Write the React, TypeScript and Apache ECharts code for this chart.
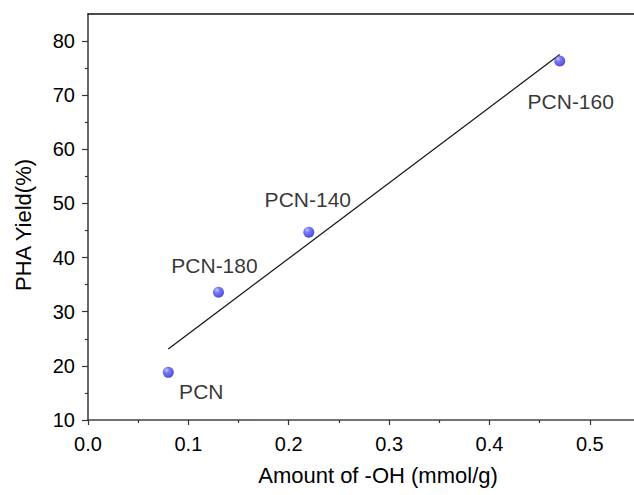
import React, { useEffect, useRef } from "react";
import * as echarts from "echarts";

const sampleNames = ["PCN", "PCN-180", "PCN-140", "PCN-160"];
const ohAmount = [0.08, 0.13, 0.22, 0.47];
const phaYield = [18.8, 33.6, 44.7, 76.3];
const fitX = [0.08, 0.47];
const fitY = [23.1, 77.5];
const xMajorTicks = [0, 0.1, 0.2, 0.3, 0.4, 0.5];
const xMinorTicks = [0.05, 0.15, 0.25, 0.35, 0.45];
const yMajorTicks = [10, 20, 30, 40, 50, 60, 70, 80];
const yMinorTicks = [15, 25, 35, 45, 55, 65, 75];

const labelOffsets: [number, number][] = [
  [33, 19],
  [-4, -27],
  [-1, -33],
  [11, 40],
];

const FONT = "'Liberation Sans', Arial, Helvetica, sans-serif";

export default function App() {
  const ref = useRef<HTMLDivElement>(null);
  useEffect(() => {
    if (!ref.current) return;
    const chart = echarts.init(ref.current, undefined, { renderer: "svg" });
    const axisLine = { show: true, lineStyle: { color: "#444", width: 1.6 } };
    const xBase = { type: "value" as const, min: 0, max: 0.544, gridIndex: 0, splitLine: { show: false } };
    const yBase = { type: "value" as const, min: 10, max: 85, gridIndex: 0, splitLine: { show: false } };
    const sphere = new echarts.graphic.RadialGradient(0.35, 0.3, 0.7, [
      { offset: 0, color: "#b8b8ff" },
      { offset: 0.35, color: "#5a5af5" },
      { offset: 1, color: "#2323d0" },
    ]);
    chart.setOption({
      animation: false,
      backgroundColor: "#fff",
      textStyle: { fontFamily: FONT },
      grid: { left: 88, right: 0, top: 14, bottom: 75, containLabel: false },
      xAxis: [
        {
          ...xBase,
          position: "bottom",
          axisLine,
          axisTick: { show: true, length: 5, customValues: xMajorTicks, lineStyle: { color: "#333", width: 1.2 } },
          axisLabel: {
            show: true,
            customValues: xMajorTicks,
            formatter: (v: number) => v.toFixed(1),
            fontSize: 20,
            color: "#000",
            margin: 14,
            fontFamily: FONT,
          },
          name: "Amount of -OH (mmol/g)",
          nameLocation: "middle",
          nameGap: 44,
          nameTextStyle: { fontSize: 22, color: "#000", fontFamily: FONT, padding: [0, 0, 0, 34] },
        },
        {
          ...xBase,
          position: "bottom",
          axisLine: { show: false },
          axisTick: { show: true, length: 3, customValues: xMinorTicks, lineStyle: { color: "#333", width: 1.2 } },
          axisLabel: { show: false },
        },
        {
          ...xBase,
          position: "top",
          axisLine: { show: true, lineStyle: { color: "#111", width: 1.5 } },
          axisTick: { show: false },
          axisLabel: { show: false },
        },
      ],
      yAxis: [
        {
          ...yBase,
          position: "left",
          axisLine,
          axisTick: { show: true, length: 6, customValues: yMajorTicks, lineStyle: { color: "#333", width: 1.2 } },
          axisLabel: {
            show: true,
            customValues: yMajorTicks,
            fontSize: 20,
            color: "#000",
            margin: 13,
            fontFamily: FONT,
          },
          name: "PHA Yield(%)",
          nameLocation: "middle",
          nameGap: 54,
          nameTextStyle: { fontSize: 22, color: "#000", fontFamily: FONT, padding: [0, 16, 0, 0] },
        },
        {
          ...yBase,
          position: "left",
          axisLine: { show: false },
          axisTick: { show: true, length: 3, customValues: yMinorTicks, lineStyle: { color: "#333", width: 1.2 } },
          axisLabel: { show: false },
        },
      ],
      series: [
        {
          type: "line",
          xAxisIndex: 0,
          yAxisIndex: 0,
          data: fitX.map((x, i) => [x, fitY[i]]),
          showSymbol: false,
          symbol: "none",
          lineStyle: { color: "#111", width: 1.2 },
          silent: true,
          z: 2,
        },
        {
          type: "scatter",
          xAxisIndex: 0,
          yAxisIndex: 0,
          symbol: "circle",
          symbolSize: 11,
          itemStyle: { color: sphere },
          z: 3,
          data: ohAmount.map((x, i) => ({
            value: [x, phaYield[i]],
            name: sampleNames[i],
            label: {
              show: true,
              position: "inside",
              offset: labelOffsets[i],
              formatter: sampleNames[i],
              fontSize: 21,
              color: "#000",
              fontFamily: FONT,
            },
          })),
        },
      ],
    });
    return () => chart.dispose();
  }, []);
  return <div ref={ref} style={{ width: 634, height: 495, position: "absolute", left: 0, top: 0 }} />;
}
